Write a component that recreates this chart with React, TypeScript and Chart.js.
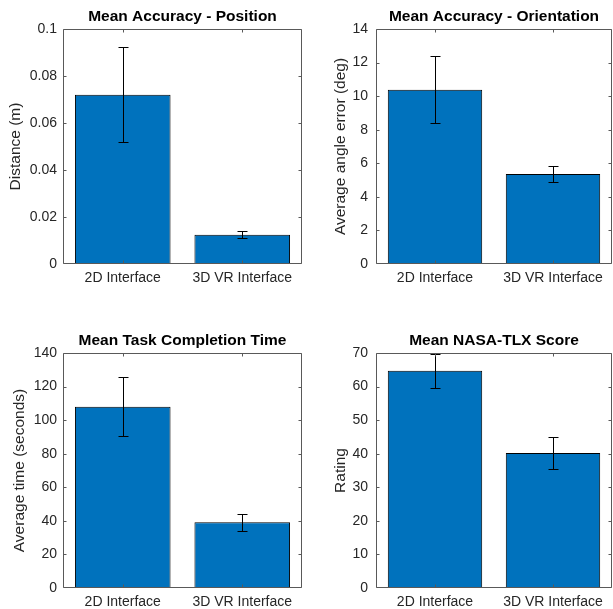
import React, { useEffect, useRef } from "react";
import { Chart, registerables } from "chart.js";

Chart.register(...registerables);

const categories = ["2D Interface", "3D VR Interface"];

const positionMeans = [0.072, 0.0125];
const positionErrors = [0.0202, 0.0014];
const positionTicks = [0, 0.02, 0.04, 0.06, 0.08, 0.1];

const orientationMeans = [10.38, 5.36];
const orientationErrors = [2.0, 0.48];
const orientationTicks = [0, 2, 4, 6, 8, 10, 12, 14];

const timeMeans = [108.0, 39.2];
const timeErrors = [17.7, 5.1];
const timeTicks = [0, 20, 40, 60, 80, 100, 120, 140];

const tlxMeans = [64.7, 40.2];
const tlxErrors = [5.1, 4.65];
const tlxTicks = [0, 10, 20, 30, 40, 50, 60, 70];

const FONT = "'Liberation Sans', Arial, Helvetica, sans-serif";
const TEXT = "#262626";
const FRAME = "#595959";
const BAR = "#0072BD";

type PanelCfg = {
  title: string;
  yLabel: string;
  means: number[];
  errors: number[];
  ticks: number[];
  left: number;
  top: number;
  w: number;
  h: number;
  yW: number;
  xH: number;
  padRight: number;
  yTitlePad: number;
  yTickPad: number;
};

const panels: PanelCfg[] = [
  {
    title: "Mean Accuracy - Position",
    yLabel: "Distance (m)",
    means: positionMeans,
    errors: positionErrors,
    ticks: positionTicks,
    left: 0, top: 0, w: 306, h: 304, yW: 63, xH: 40, padRight: 4, yTitlePad: 7, yTickPad: 6,
  },
  {
    title: "Mean Accuracy - Orientation",
    yLabel: "Average angle error (deg)",
    means: orientationMeans,
    errors: orientationErrors,
    ticks: orientationTicks,
    left: 306, top: 0, w: 307, h: 304, yW: 70, xH: 40, padRight: 1, yTitlePad: 26, yTickPad: 8,
  },
  {
    title: "Mean Task Completion Time",
    yLabel: "Average time (seconds)",
    means: timeMeans,
    errors: timeErrors,
    ticks: timeTicks,
    left: 0, top: 324, w: 306, h: 285, yW: 63, xH: 21, padRight: 4, yTitlePad: 11, yTickPad: 6,
  },
  {
    title: "Mean NASA-TLX Score",
    yLabel: "Rating",
    means: tlxMeans,
    errors: tlxErrors,
    ticks: tlxTicks,
    left: 306, top: 324, w: 307, h: 285, yW: 70, xH: 21, padRight: 1, yTitlePad: 26, yTickPad: 8,
  },
];

const overlayPlugin = {
  id: "overlay",
  afterDatasetsDraw(chart: any, _args: any, opts: any) {
    const { ctx, chartArea: a, scales } = chart;
    const xs = scales.x;
    const ys = scales.y;
    const errs: number[] = opts.errors || [];
    const means = chart.data.datasets[0].data as number[];
    const meta = chart.getDatasetMeta(0);
    ctx.save();
    // error bars
    ctx.strokeStyle = "#000";
    ctx.lineWidth = 1;
    ctx.beginPath();
    meta.data.forEach((bar: any, i: number) => {
      const cx = Math.round(bar.x) + 0.5;
      const yTop = Math.round(ys.getPixelForValue(means[i] + errs[i])) + 0.5;
      const yBot = Math.round(ys.getPixelForValue(means[i] - errs[i])) + 0.5;
      ctx.moveTo(cx, yTop);
      ctx.lineTo(cx, yBot);
      ctx.moveTo(cx - 5, yTop);
      ctx.lineTo(cx + 5, yTop);
      ctx.moveTo(cx - 5, yBot);
      ctx.lineTo(cx + 5, yBot);
    });
    ctx.stroke();
    // frame
    const L = a.left + 0.5;
    const R = a.right - 0.5;
    const T = a.top + 0.5;
    const B = a.bottom - 0.5;
    ctx.strokeStyle = FRAME;
    ctx.beginPath();
    ctx.rect(L, T, R - L, B - T);
    // y ticks
    ys.ticks.forEach((t: any) => {
      let py = Math.round(ys.getPixelForValue(t.value)) + 0.5;
      py = Math.max(T, Math.min(B, py));
      ctx.moveTo(L, py);
      ctx.lineTo(L + 3, py);
      ctx.moveTo(R, py);
      ctx.lineTo(R - 3, py);
    });
    // x ticks
    for (let i = 0; i < chart.data.labels.length; i++) {
      const px = Math.round(xs.getPixelForValue(i)) + 0.5;
      ctx.moveTo(px, B);
      ctx.lineTo(px, B - 3);
      ctx.moveTo(px, T);
      ctx.lineTo(px, T + 3);
    }
    ctx.stroke();
    ctx.restore();
  },
};

function Panel({ cfg }: { cfg: PanelCfg }) {
  const ref = useRef<HTMLCanvasElement>(null);
  useEffect(() => {
    if (!ref.current) return;
    const tickVals = cfg.ticks;
    const chart = new Chart(ref.current, {
      type: "bar",
      data: {
        labels: categories,
        datasets: [
          {
            data: cfg.means,
            backgroundColor: BAR,
            borderColor: "#000",
            borderWidth: 1,
            borderSkipped: false,
            barPercentage: 0.8,
            categoryPercentage: 1.0,
          },
        ],
      },
      options: {
        animation: false,
        responsive: false,
        maintainAspectRatio: false,
        devicePixelRatio: 1,
        layout: { padding: { left: 0, right: cfg.padRight, top: 0, bottom: 0 } },
        plugins: {
          legend: { display: false },
          tooltip: { enabled: false },
          title: {
            display: true,
            text: cfg.title,
            fullSize: false,
            color: "#000",
            font: { family: FONT, size: 15.5, weight: "bold", lineHeight: "19px" },
            padding: { top: 7, bottom: 3 },
          },
          overlay: { errors: cfg.errors },
        } as any,
        scales: {
          x: {
            type: "category",
            grid: { display: false, drawTicks: false },
            border: { display: false },
            ticks: {
              color: TEXT,
              font: { family: FONT, size: 14 },
              padding: 6,
              maxRotation: 0,
              autoSkip: false,
            },
            afterFit: (s: any) => {
              s.height = cfg.xH;
            },
          },
          y: {
            type: "linear",
            min: tickVals[0],
            max: tickVals[tickVals.length - 1],
            grid: { display: false, drawTicks: false },
            border: { display: false },
            afterBuildTicks: (s: any) => {
              s.ticks = tickVals.map((v) => ({ value: v }));
            },
            ticks: {
              color: TEXT,
              font: { family: FONT, size: 14 },
              padding: cfg.yTickPad,
              callback: (v: any) => String(v),
            },
            title: {
              display: true,
              text: cfg.yLabel,
              color: TEXT,
              font: { family: FONT, size: 15.5, lineHeight: "18px" },
              padding: { top: cfg.yTitlePad, bottom: 0 },
            },
            afterFit: (s: any) => {
              s.width = cfg.yW;
            },
          },
        },
      },
      plugins: [overlayPlugin],
    } as any);
    return () => chart.destroy();
  }, [cfg]);
  return (
    <canvas
      ref={ref}
      width={cfg.w}
      height={cfg.h}
      style={{
        position: "absolute",
        left: cfg.left,
        top: cfg.top,
        width: cfg.w,
        height: cfg.h,
        display: "block",
      }}
    />
  );
}

export default function App() {
  return (
    <div
      style={{
        position: "fixed",
        left: 0,
        top: 0,
        width: 613,
        height: 609,
        overflow: "hidden",
        background: "#fff",
      }}
    >
      {panels.map((p, i) => (
        <Panel key={i} cfg={p} />
      ))}
    </div>
  );
}
